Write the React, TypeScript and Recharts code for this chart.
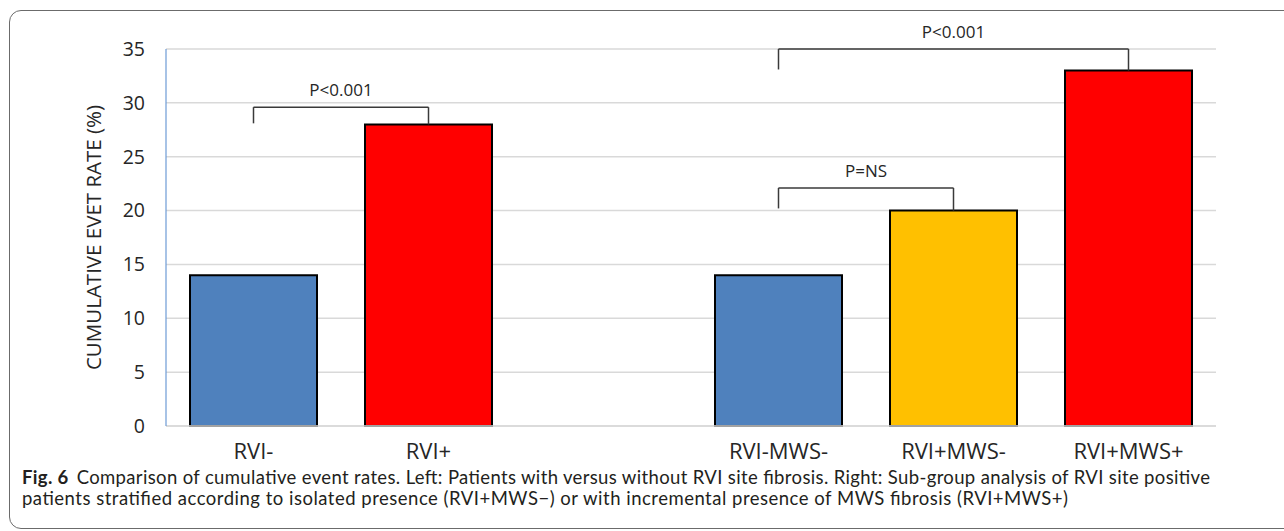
import React from 'react';
import { BarChart, Bar, XAxis, YAxis, CartesianGrid, Cell, ReferenceLine } from 'recharts';

const categories = ['RVI-', 'RVI+', ' ', 'RVI-MWS-', 'RVI+MWS-', 'RVI+MWS+'];
const eventRates: (number | null)[] = [14, 28, null, 14, 20, 33];
const barColors = ['#4f81bd', '#ff0000', '#ffffff', '#4f81bd', '#ffc000', '#ff0000'];
const yTicks = [0, 5, 10, 15, 20, 25, 30, 35];
const yLabel = 'CUMULATIVE EVET RATE (%)';

const bracketFrom = ['RVI-', 'RVI-MWS-', 'RVI-MWS-'];
const bracketTo = ['RVI+', 'RVI+MWS-', 'RVI+MWS+'];
const bracketTop = [29.6, 22.1, 35];
const bracketFromEnd = [28.1, 20.2, 33.1];
const bracketToEnd = [28, 20, 33];
const bracketLabels = ['P<0.001', 'P=NS', 'P<0.001'];

const captionBold = 'Fig. 6';
const captionLine1 =
  'Comparison of cumulative event rates. Left: Patients with versus without RVI site fibrosis. Right: Sub-group analysis of RVI site positive';
const captionLine2 =
  'patients stratified according to isolated presence (RVI+MWS\u2212) or with incremental presence of MWS fibrosis (RVI+MWS+)';

const data = categories.map((name, i) => ({ name, rate: eventRates[i] }));

const FONT = '"Open Sans", sans-serif';
const CAPFONT = 'Lato, "Open Sans", sans-serif';
const TEXT = '#262626';
const BRACKET = '#3a3a3a';

export default function App() {
  return (
    <div
      style={{
        position: 'absolute',
        left: 0,
        top: 0,
        width: 1284,
        height: 531,
        overflow: 'hidden',
        background: '#fff',
        fontFamily: FONT,
      }}
    >
      <div
        style={{
          position: 'absolute',
          left: 9,
          top: 10,
          width: 1320,
          height: 519,
          border: '1.5px solid #6b6b6b',
          borderRadius: 12,
          boxSizing: 'border-box',
        }}
      />
      <div style={{ position: 'absolute', left: 0, top: 0 }}>
        <BarChart
          width={1284}
          height={531}
          data={data}
          margin={{ top: 49, right: 68, bottom: 75, left: 0 }}
        >
          <CartesianGrid horizontal vertical={false} stroke="#d9d9d9" strokeWidth={1.5} />
          <XAxis
            dataKey="name"
            axisLine={{ stroke: '#d9d9d9', strokeWidth: 1.5 }}
            tickLine={false}
            tickSize={0}
            tickMargin={17}
            interval={0}
            height={30}
            tick={{ fill: TEXT, fontSize: 22, fontFamily: FONT }}
          />
          <YAxis
            width={166}
            domain={[0, 35]}
            ticks={yTicks}
            interval={0}
            axisLine={{ stroke: '#6d9bd6', strokeWidth: 1.2 }}
            tickLine={false}
            tickSize={0}
            tickMargin={21}
            tick={{ fill: TEXT, fontSize: 19.5, fontFamily: FONT }}
            label={{
              value: yLabel,
              angle: -90,
              position: 'insideLeft',
              offset: 94,
              style: { textAnchor: 'middle', fill: TEXT, fontSize: 20.5, fontFamily: FONT },
            }}
          />
          <Bar dataKey="rate" barSize={127} stroke="#000" strokeWidth={2} isAnimationActive={false}>
            {data.map((d, i) => (
              <Cell key={i} fill={barColors[i]} />
            ))}
          </Bar>
          {bracketLabels.map((lab, i) => (
            <ReferenceLine
              key={'h' + i}
              segment={[
                { x: bracketFrom[i], y: bracketTop[i] },
                { x: bracketTo[i], y: bracketTop[i] },
              ]}
              stroke={BRACKET}
              strokeWidth={1.5}
              ifOverflow="visible"
              label={{
                value: lab,
                position: 'top',
                offset: 11,
                fill: TEXT,
                fontSize: 17,
                fontFamily: FONT,
              }}
            />
          ))}
          {bracketLabels.map((lab, i) => (
            <ReferenceLine
              key={'l' + i}
              segment={[
                { x: bracketFrom[i], y: bracketFromEnd[i] },
                { x: bracketFrom[i], y: bracketTop[i] },
              ]}
              stroke={BRACKET}
              strokeWidth={1.5}
              ifOverflow="visible"
            />
          ))}
          {bracketLabels.map((lab, i) => (
            <ReferenceLine
              key={'r' + i}
              segment={[
                { x: bracketTo[i], y: bracketToEnd[i] },
                { x: bracketTo[i], y: bracketTop[i] },
              ]}
              stroke={BRACKET}
              strokeWidth={1.5}
              ifOverflow="visible"
            />
          ))}
        </BarChart>
      </div>
      <svg
        width={1284}
        height={531}
        style={{ position: 'absolute', left: 0, top: 0, pointerEvents: 'none' }}
      >
        <text x={22} y={484} fontFamily={CAPFONT} fontSize={18.5} fill="#231f20" textLength={1188} lengthAdjust="spacing">
          <tspan fontWeight={700}>{captionBold}</tspan>
          <tspan dx={8}>{captionLine1}</tspan>
        </text>
        <text x={22} y={505} fontFamily={CAPFONT} fontSize={18.5} fill="#231f20" textLength={1046} lengthAdjust="spacing">
          {captionLine2}
        </text>
      </svg>
    </div>
  );
}
